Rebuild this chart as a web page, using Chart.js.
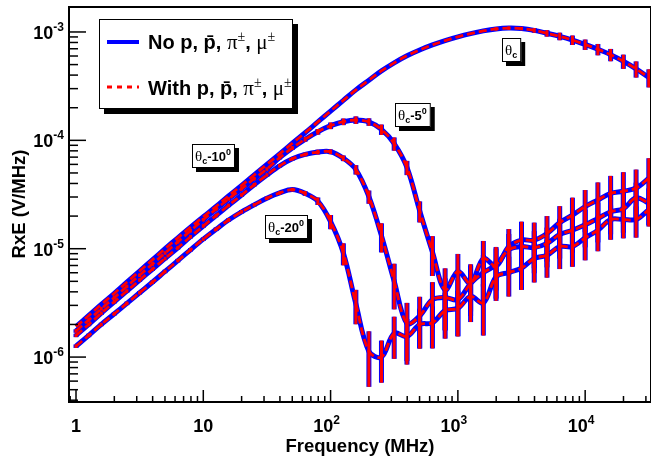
<!DOCTYPE html>
<html>
<head>
<meta charset="utf-8">
<script src="https://cdn.jsdelivr.net/npm/chart.js@4.4.1/dist/chart.umd.min.js"></script>
<style>
  html, body { margin: 0; padding: 0; background: #fff; }
  #wrap { width: 651px; height: 458px; }
</style>
</head>
<body>
<div id="wrap"><canvas id="chart" width="651" height="458"></canvas></div>
<script>
// Frequency grid (MHz), 10 points per decade
const freq = [1, 1.26, 1.58, 2, 2.51, 3.16, 3.98, 5.01, 6.31, 7.94,
  10, 12.6, 15.8, 20, 25.1, 31.6, 39.8, 50.1, 63.1, 79.4,
  100, 126, 158, 200, 251, 316, 398, 501, 631, 794,
  1000, 1259, 1585, 1995, 2512, 3162, 3981, 5012, 6310, 7943,
  10000, 12589, 15849, 19953, 25119, 31623];

// RxE (V/MHz) at the Cherenkov angle and off-cone
const thetaC = [1.91e-6, 2.42e-6, 3.06e-6, 3.88e-6, 4.91e-6, 6.22e-6, 7.89e-6, 1.00e-5, 1.26e-5, 1.58e-5,
  1.97e-5, 2.45e-5, 3.07e-5, 3.84e-5, 4.79e-5, 6.00e-5, 7.50e-5, 9.40e-5, 1.175e-4, 1.48e-4,
  1.86e-4, 2.34e-4, 2.92e-4, 3.59e-4, 4.37e-4, 5.19e-4, 6.03e-4, 6.82e-4, 7.59e-4, 8.32e-4,
  9.02e-4, 9.66e-4, 1.023e-3, 1.067e-3, 1.086e-3, 1.076e-3, 1.035e-3, 9.73e-4, 9.12e-4, 8.43e-4,
  7.67e-4, 6.92e-4, 6.17e-4, 5.37e-4, 4.57e-4, 3.80e-4];
const thetaC5 = [1.74e-6, 2.20e-6, 2.79e-6, 3.54e-6, 4.49e-6, 5.69e-6, 7.21e-6, 9.12e-6, 1.156e-5, 1.466e-5,
  1.85e-5, 2.32e-5, 2.88e-5, 3.57e-5, 4.42e-5, 5.43e-5, 6.92e-5, 8.51e-5, 1.023e-4, 1.20e-4,
  1.365e-4, 1.486e-4, 1.54e-4, 1.48e-4, 1.26e-4, 9.33e-5, 5.62e-5, 2.24e-5, 9.33e-6, 4.17e-6,
  6.17e-6, 4.79e-6, 8.13e-6, 6.92e-6, 1.047e-5, 1.20e-5, 1.20e-5, 1.38e-5, 1.74e-5, 2.04e-5,
  2.45e-5, 2.82e-5, 3.24e-5, 3.39e-5, 3.63e-5, 4.47e-5];
const thetaC10 = [1.585e-6, 2.0e-6, 2.54e-6, 3.24e-6, 4.07e-6, 5.13e-6, 6.46e-6, 8.13e-6, 1.02e-5, 1.29e-5,
  1.62e-5, 2.02e-5, 2.51e-5, 3.13e-5, 3.89e-5, 4.79e-5, 5.82e-5, 6.76e-5, 7.41e-5, 7.80e-5,
  7.85e-5, 6.84e-5, 5.37e-5, 3.02e-5, 1.32e-5, 5.01e-6, 2.04e-6, 2.40e-6, 3.39e-6, 3.55e-6,
  3.39e-6, 4.79e-6, 6.03e-6, 7.08e-6, 9.77e-6, 1.047e-5, 1.023e-5, 1.12e-5, 1.35e-5, 1.48e-5,
  1.66e-5, 1.905e-5, 2.19e-5, 2.34e-5, 2.95e-5, 2.63e-5];
const thetaC20 = [1.26e-6, 1.585e-6, 2.0e-6, 2.51e-6, 3.13e-6, 3.92e-6, 4.90e-6, 6.17e-6, 7.76e-6, 9.77e-6,
  1.225e-5, 1.51e-5, 1.84e-5, 2.19e-5, 2.54e-5, 2.92e-5, 3.27e-5, 3.51e-5, 3.24e-5, 2.75e-5,
  1.78e-5, 9.12e-6, 3.09e-6, 1.13e-6, 1.0e-6, 1.66e-6, 1.55e-6, 2.0e-6, 2.07e-6, 2.69e-6,
  2.82e-6, 3.63e-6, 3.16e-6, 5.50e-6, 6.03e-6, 6.61e-6, 8.13e-6, 8.71e-6, 1.047e-5, 1.047e-5,
  1.26e-5, 1.48e-5, 1.86e-5, 1.86e-5, 1.86e-5, 2.29e-5];

// relative uncertainty (sigma / value) for each point
const errC = [0, 0, 0, 0, 0, 0, 0, 0, 0, 0,
  0, 0, 0, 0, 0, 0, 0, 0, 0, 0,
  0, 0, 0, 0, 0, 0, 0, 0, 0, 0,
  0, 0, 0, 0.015, 0.02, 0.03, 0.05, 0.07, 0.08, 0.1,
  0.11, 0.12, 0.13, 0.15, 0.17, 0.19];
const errC5 = [0.01, 0.01, 0.01, 0.01, 0.01, 0.01, 0.01, 0.01, 0.01, 0.01,
  0.01, 0.01, 0.01, 0.01, 0.01, 0.02, 0.03, 0.04, 0.05, 0.06,
  0.07, 0.07, 0.08, 0.08, 0.11, 0.14, 0.15, 0.22, 0.40, 0.58,
  0.45, 0.5, 0.45, 0.5, 0.45, 0.48, 0.45, 0.45, 0.42, 0.45,
  0.42, 0.45, 0.45, 0.5, 0.48, 0.53];
const errC10 = [0.01, 0.01, 0.01, 0.01, 0.01, 0.01, 0.01, 0.01, 0.01, 0.01,
  0.01, 0.01, 0.01, 0.01, 0.01, 0.015, 0.02, 0.03, 0.04, 0.05,
  0.05, 0.06, 0.10, 0.14, 0.30, 0.45, 0.55, 0.5, 0.45, 0.5,
  0.54, 0.45, 0.45, 0.42, 0.4, 0.4, 0.42, 0.4, 0.4, 0.38,
  0.38, 0.4, 0.38, 0.4, 0.38, 0.37];
const errC20 = [0.01, 0.01, 0.01, 0.01, 0.01, 0.01, 0.01, 0.01, 0.01, 0.01,
  0.01, 0.01, 0.01, 0.015, 0.02, 0.03, 0.03, 0.04, 0.05, 0.08,
  0.15, 0.23, 0.35, 0.53, 0.42, 0.42, 0.45, 0.4, 0.42, 0.45,
  0.45, 0.42, 0.5, 0.4, 0.4, 0.37, 0.4, 0.38, 0.38, 0.35,
  0.38, 0.36, 0.35, 0.33, 0.32, 0.3];

// y tick decades and x tick decades
const yDecades = [-6, -5, -4, -3];
const xDecades = [0, 1, 2, 3, 4];

const legendNames = ["No", "With"];

const SANS = "'Liberation Sans', Arial, Helvetica, sans-serif";
const SERIF = "'Liberation Serif', 'Times New Roman', serif";
const BLUE = "#0000ff";
const RED = "#ff0000";

// curve labels: text pieces plus the (freq, value) point the box is centred on
const curveLabels = [
  { off: "", at: [2660, 6.8e-4] },
  { off: "-5", at: [444, 1.72e-4] },
  { off: "-10", at: [12.1, 7.2e-5] },
  { off: "-20", at: [45, 1.58e-5] }
];

const series = [
  { values: thetaC, err: errC },
  { values: thetaC5, err: errC5 },
  { values: thetaC10, err: errC10 },
  { values: thetaC20, err: errC20 }
];

const datasets = [];
series.forEach(s => {
  const pts = freq.map((f, i) => ({ x: f, y: s.values[i] }));
  datasets.push({
    data: pts, values: s.values, err: s.err,
    borderColor: BLUE, borderWidth: 5, pointRadius: 0,
    tension: 0.35, order: 2, barColor: BLUE, barWidth: 5
  });
  datasets.push({
    data: pts, values: s.values, err: s.err,
    borderColor: RED, borderWidth: 2.8, borderDash: [8, 4], pointRadius: 0,
    tension: 0.35, order: 1, barColor: RED, barWidth: 3
  });
});

function richWidth(ctx, parts) {
  let w = 0;
  parts.forEach(p => { ctx.font = p.font; w += ctx.measureText(p.t).width; });
  return w;
}
function drawRich(ctx, parts, x, y) {
  parts.forEach(p => {
    ctx.font = p.font;
    ctx.fillText(p.t, x, y + (p.dy || 0));
    x += ctx.measureText(p.t).width;
  });
}
const power = n => [
  { t: "10", font: `bold 18px ${SANS}` },
  { t: String(n), font: `bold 12px ${SANS}`, dy: -8 }
];

// error bars drawn right after their own line
const errorBars = {
  id: "errorBars",
  afterDatasetDraw(chart, args) {
    const ds = chart.data.datasets[args.index];
    const { ctx, chartArea } = chart;
    const xs = chart.scales.x, ys = chart.scales.y;
    ctx.save();
    ctx.beginPath();
    ctx.rect(chartArea.left, chartArea.top, chartArea.right - chartArea.left, chartArea.bottom - chartArea.top);
    ctx.clip();
    ctx.strokeStyle = ds.barColor;
    ctx.lineWidth = ds.barWidth;
    ctx.setLineDash([]);
    freq.forEach((f, i) => {
      const r = ds.err[i];
      if (!r) return;
      const v = ds.values[i];
      const x = xs.getPixelForValue(f);
      let top = ys.getPixelForValue(v * (1 + r));
      let bot = r < 1 ? ys.getPixelForValue(v * (1 - r)) : chartArea.bottom;
      if (bot - top < 3.5) {
        const mid = (top + bot) / 2;
        top = mid - 1.75; bot = mid + 1.75;
      }
      ctx.beginPath();
      ctx.moveTo(x, top);
      ctx.lineTo(x, bot);
      ctx.stroke();
    });
    ctx.restore();
  }
};

// frame, ticks, tick labels, titles, legend and curve labels
const decorations = {
  id: "decorations",
  afterDraw(chart) {
    const { ctx, chartArea: a } = chart;
    const xs = chart.scales.x, ys = chart.scales.y;
    ctx.save();
    ctx.strokeStyle = "#000";
    ctx.fillStyle = "#000";
    ctx.setLineDash([]);

    ctx.lineWidth = 2;
    ctx.strokeRect(a.left, a.top, a.right - a.left, a.bottom - a.top);

    // y ticks
    ctx.lineWidth = 1.5;
    for (let d = -7; d <= -3; d++) {
      for (let m = 1; m <= 9; m++) {
        const v = m * Math.pow(10, d);
        if (v < ys.min || v > ys.max) continue;
        const y = ys.getPixelForValue(v);
        const len = m === 1 ? 17 : 9;
        ctx.beginPath();
        ctx.moveTo(a.left, y);
        ctx.lineTo(a.left + len, y);
        ctx.stroke();
      }
    }
    // x ticks
    for (let d = -1; d <= 4; d++) {
      for (let m = 1; m <= 9; m++) {
        const v = m * Math.pow(10, d);
        if (v < xs.min || v > xs.max) continue;
        const x = xs.getPixelForValue(v);
        const len = m === 1 ? 12 : 6;
        ctx.beginPath();
        ctx.moveTo(x, a.bottom);
        ctx.lineTo(x, a.bottom - len);
        ctx.stroke();
      }
    }

    // tick labels
    ctx.textAlign = "left";
    ctx.textBaseline = "alphabetic";
    yDecades.forEach(d => {
      const y = ys.getPixelForValue(Math.pow(10, d));
      const parts = power(d);
      drawRich(ctx, parts, 64 - richWidth(ctx, parts), y + 7);
    });
    xDecades.forEach(d => {
      const x = xs.getPixelForValue(Math.pow(10, d));
      let parts;
      if (d === 0) parts = [{ t: "1", font: `bold 18px ${SANS}` }];
      else if (d === 1) parts = [{ t: "10", font: `bold 18px ${SANS}` }];
      else parts = power(d);
      const w = richWidth(ctx, parts);
      const shift = d > 1 ? 4 : 0;
      drawRich(ctx, parts, x - w / 2 - shift, 432);
    });

    // axis titles
    ctx.font = `bold 18.5px ${SANS}`;
    ctx.textAlign = "center";
    ctx.fillText("Frequency (MHz)", (a.left + a.right) / 2, 452);
    ctx.save();
    ctx.translate(25, 204);
    ctx.rotate(-Math.PI / 2);
    ctx.fillText("RxE (V/MHz)", 0, 0);
    ctx.restore();
    ctx.textAlign = "left";

    // legend box with drop shadow
    const lx = 99, ly = 19, lw = 194, lh = 90;
    ctx.fillStyle = "#000";
    ctx.fillRect(lx + 5, ly + 5, lw, lh);
    ctx.fillStyle = "#fff";
    ctx.fillRect(lx, ly, lw, lh);
    ctx.lineWidth = 1;
    ctx.strokeRect(lx + 0.5, ly + 0.5, lw - 1, lh - 1);

    ctx.lineWidth = 4;
    ctx.strokeStyle = BLUE;
    ctx.beginPath(); ctx.moveTo(107, 42); ctx.lineTo(139, 42); ctx.stroke();
    ctx.lineWidth = 3;
    ctx.strokeStyle = RED;
    ctx.setLineDash([5, 5]);
    ctx.beginPath(); ctx.moveTo(107, 87); ctx.lineTo(139, 87); ctx.stroke();
    ctx.setLineDash([]);

    ctx.fillStyle = "#000";
    const B20 = `bold 20px ${SANS}`;
    legendNames.forEach((name, i) => {
      const parts = [
        { t: name + " p, ", font: B20 },
        { t: "p\u0304", font: B20 },
        { t: ", ", font: B20 },
        { t: "\u03c0", font: `21px ${SERIF}` },
        { t: "\u00b1", font: `14px ${SERIF}`, dy: -8 },
        { t: ", ", font: B20 },
        { t: "\u03bc", font: `21px ${SERIF}` },
        { t: "\u00b1", font: `14px ${SERIF}`, dy: -8 }
      ];
      drawRich(ctx, parts, 148, i === 0 ? 49 : 95);
    });

    // boxed curve labels
    curveLabels.forEach(lab => {
      const parts = [
        { t: "\u03b8", font: `15px ${SERIF}` },
        { t: "c", font: `bold 9px ${SANS}`, dy: 3 }
      ];
      if (lab.off) {
        parts.push({ t: lab.off, font: `bold 13px ${SANS}` });
        parts.push({ t: "0", font: `bold 9px ${SANS}`, dy: -6 });
      }
      const w = richWidth(ctx, parts) + 7;
      const h = 24;
      const cx = xs.getPixelForValue(lab.at[0]);
      const cy = ys.getPixelForValue(lab.at[1]);
      const bx = Math.round(cx - w / 2), by = Math.round(cy - h / 2);
      ctx.fillStyle = "#000";
      ctx.fillRect(bx + 4, by + 4, w, h);
      ctx.fillStyle = "#fff";
      ctx.fillRect(bx, by, w, h);
      ctx.strokeStyle = "#000";
      ctx.lineWidth = 1;
      ctx.strokeRect(bx + 0.5, by + 0.5, w - 1, h - 1);
      ctx.fillStyle = "#000";
      drawRich(ctx, parts, bx + 3, by + 17);
    });
    ctx.restore();
  }
};

new Chart(document.getElementById("chart"), {
  type: "line",
  data: { datasets },
  options: {
    responsive: false,
    devicePixelRatio: 1,
    animation: false,
    layout: { padding: { left: 69, top: 7, right: 0, bottom: 56 } },
    plugins: { legend: { display: false }, tooltip: { enabled: false } },
    scales: {
      x: { type: "logarithmic", min: 0.881, max: 32900, display: false },
      y: { type: "logarithmic", min: 3.85e-7, max: 1.7e-3, display: false }
    }
  },
  plugins: [errorBars, decorations]
});
</script>
</body>
</html>
